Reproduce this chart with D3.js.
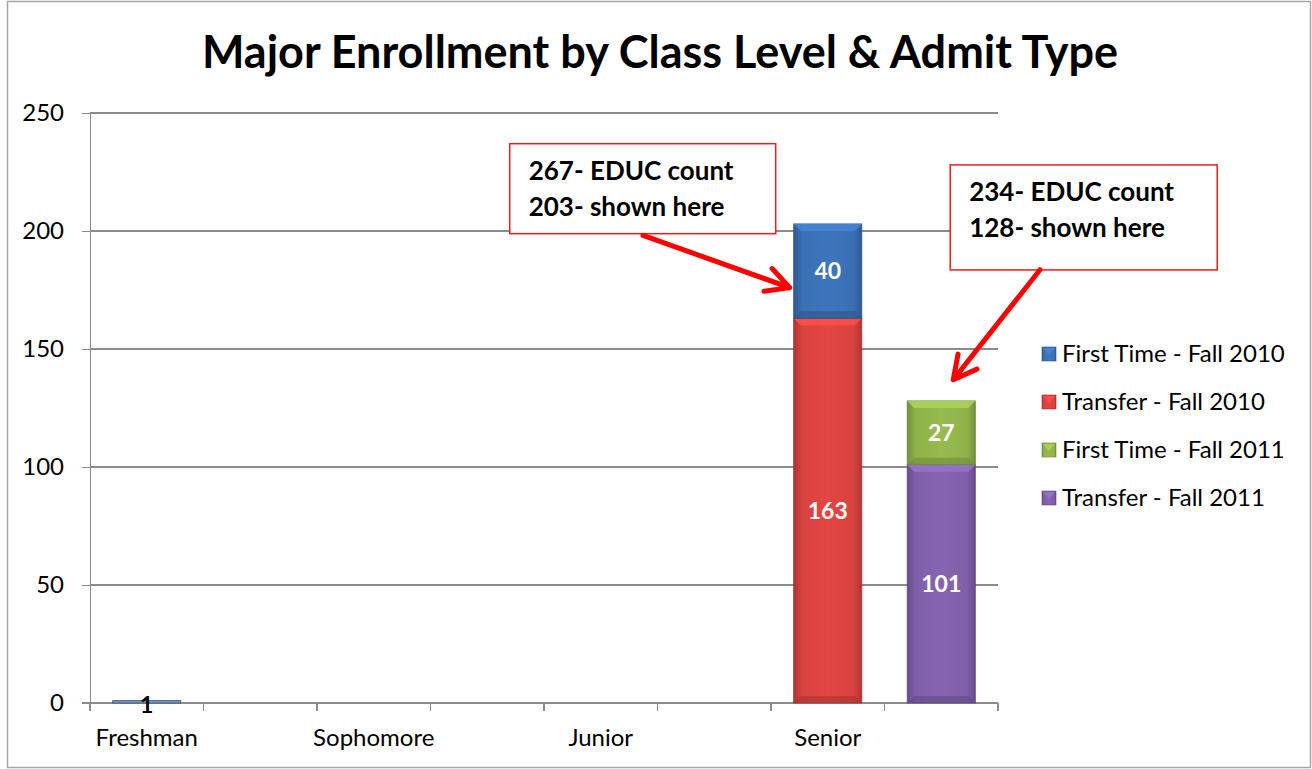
<!DOCTYPE html>
<html lang="en">
<head>
<meta charset="UTF-8">
<script src="https://d3js.org/d3.v7.min.js"></script>
<title>Major Enrollment</title>
<style>
  body { margin:0; background:#fff; font-family: Lato, "Open Sans", sans-serif; }
  .grid line { stroke:#8c8c8c; stroke-width:1.2px; shape-rendering:crispEdges; }
  .axis path, .axis line { stroke:#8c8c8c; stroke-width:1.2px; shape-rendering:crispEdges; }
  .axis text { font-family: Lato, sans-serif; font-size:24px; fill:#000; }
  .barlabel { font-family: Lato, sans-serif; font-weight:bold; font-size:23px; fill:#fff; text-anchor:middle; }
  .note { font-family: Lato, sans-serif; font-weight:bold; font-size:26px; fill:#000; }
  .legend text { font-family: Lato, sans-serif; font-size:24px; fill:#000; }
</style>
</head>
<body>
<svg id="chart" width="1312" height="769"></svg>
<script>
// categories (two slots per class level, 2010 / 2011)
const classLevels = ["Freshman", "", "Sophomore", "", "Junior", "", "Senior", ""];
const yTicks = [0, 50, 100, 150, 200, 250];

// series values, one per slot
const seriesNames = ["First Time - Fall 2010", "Transfer - Fall 2010", "First Time - Fall 2011", "Transfer - Fall 2011"];
const seriesColors = ["#3a6fb3", "#d8423f", "#8fb14a", "#7f5fa9"];
const firstTime2010 = [1, 0, 0, 0, 0, 0, 40, 0];
const transfer2010  = [0, 0, 0, 0, 0, 0, 163, 0];
const firstTime2011 = [0, 0, 0, 0, 0, 0, 0, 27];
const transfer2011  = [0, 0, 0, 0, 0, 0, 0, 101];

// callout notes: slot, value it points at, text
const noteSlots = [6, 7];
const noteValues = [176, 137];
const noteLines = [["267- EDUC count", "203- shown here"], ["234- EDUC count", "128- shown here"]];

const svg = d3.select("#chart");
const W = 1312, H = 769;
const margin = {top:113, left:90, right:314, bottom:66};

// outer frame
svg.append("rect").attr("x", 7.5).attr("y", 1.5).attr("width", W - 9).attr("height", H - 3)
  .attr("fill", "#fff").attr("stroke", "#a6a6a6").attr("stroke-width", 1.5);

svg.append("text").attr("x", 660).attr("y", 68).attr("text-anchor", "middle")
  .style("font-family", "Lato, sans-serif").style("font-weight", "bold").style("font-size", "45px")
  .text("Major Enrollment by Class Level & Admit Type");

const x = d3.scaleBand().domain(d3.range(classLevels.length))
  .range([margin.left, W - margin.right]).paddingInner(0.4).paddingOuter(0.2);
const y = d3.scaleLinear().domain([0, 250]).range([H - margin.bottom, margin.top]);

// gridlines
svg.append("g").attr("class", "grid").selectAll("line").data(yTicks.slice(1)).enter()
  .append("line").attr("x1", margin.left).attr("x2", W - margin.right)
  .attr("y1", d => Math.round(y(d))).attr("y2", d => Math.round(y(d)));

// y axis
const yAxis = svg.append("g").attr("class", "axis").attr("transform", `translate(${margin.left},0)`)
  .call(d3.axisLeft(y).tickValues(yTicks).tickSize(8).tickPadding(18));
yAxis.selectAll(".tick line").attr("x2", -8);

// x axis: ticks at slot boundaries, labels at slot centres
const xAxisG = svg.append("g").attr("class", "axis").attr("transform", `translate(0,${y(0)})`);
xAxisG.append("line").attr("x1", margin.left - 8).attr("x2", W - margin.right).attr("y1", 0).attr("y2", 0);
const step = x.step();
xAxisG.selectAll(".xt").data(d3.range(classLevels.length + 1)).enter().append("line")
  .attr("x1", i => margin.left + i * step).attr("x2", i => margin.left + i * step)
  .attr("y1", 0).attr("y2", 8);
xAxisG.selectAll(".xl").data(classLevels).enter().append("text")
  .attr("x", (d, i) => x(i) + x.bandwidth() / 2).attr("y", 43).attr("text-anchor", "middle")
  .text(d => d);

// gradients for bevelled look
const defs = svg.append("defs");
seriesColors.forEach((c, k) => {
  const g = defs.append("linearGradient").attr("id", "grad" + k).attr("x1", 0).attr("x2", 1).attr("y1", 0).attr("y2", 0);
  const dark = d3.color(c).darker(0.6), light = d3.color(c).brighter(0.15);
  g.append("stop").attr("offset", "0%").attr("stop-color", dark);
  g.append("stop").attr("offset", "12%").attr("stop-color", c);
  g.append("stop").attr("offset", "50%").attr("stop-color", light);
  g.append("stop").attr("offset", "88%").attr("stop-color", c);
  g.append("stop").attr("offset", "100%").attr("stop-color", dark);
});

// stacked data: transfer on bottom, first time on top
const rows = classLevels.map((c, i) => ({
  slot: i, s0: firstTime2010[i], s1: transfer2010[i], s2: firstTime2011[i], s3: transfer2011[i]
}));
const stack = d3.stack().keys(["s1", "s0", "s3", "s2"]);
const layers = stack(rows);

const bars = svg.append("g");
layers.forEach(layer => {
  const k = +layer.key.slice(1);
  layer.forEach(seg => {
    const v = seg[1] - seg[0];
    if (v <= 0) return;
    const bx = x(seg.data.slot), bw = x.bandwidth();
    const y0 = y(seg[0]), y1 = y(seg[1]);
    const h = Math.max(y0 - y1, 2);
    bars.append("rect").attr("x", bx).attr("y", y0 - h).attr("width", bw).attr("height", h)
      .attr("fill", v < 2 ? "#7d97b5" : `url(#grad${k})`)
      .attr("stroke", d3.color(seriesColors[k]).darker(0.8)).attr("stroke-width", 0.8);
    if (h > 12) {
      // top bevel
      const b = 7;
      bars.append("path")
        .attr("d", `M${bx},${y1}L${bx + bw},${y1}L${bx + bw - b},${y1 + b}L${bx + b},${y1 + b}Z`)
        .attr("fill", d3.color(seriesColors[k]).brighter(0.5)).attr("opacity", 0.85);
      // bottom shade
      bars.append("path")
        .attr("d", `M${bx},${y0}L${bx + bw},${y0}L${bx + bw - b},${y0 - b}L${bx + b},${y0 - b}Z`)
        .attr("fill", d3.color(seriesColors[k]).darker(0.7)).attr("opacity", 0.6);
      bars.append("text").attr("class", "barlabel")
        .attr("x", bx + bw / 2).attr("y", (y0 + y1) / 2 + 8).text(v);
    } else {
      bars.append("text").attr("class", "barlabel").style("fill", "#000")
        .attr("x", bx + bw / 2).attr("y", y0 + 10).text(v);
    }
  });
});

// callouts
const notes = svg.append("g");
const boxes = [
  {bx: x(noteSlots[0]) - 284, by: y(237), w: 266, h: 90, tip: [x(noteSlots[0]) - 4, y(noteValues[0])], tail: [643, y(199) + 2]},
  {bx: x(noteSlots[1]) + 43, by: y(228), w: 267, h: 105, tip: [x(noteSlots[1]) + x.bandwidth() / 2 + 12, y(noteValues[1])], tail: [1040, y(184) + 1]}
];
boxes.forEach((b, i) => {
  notes.append("rect").attr("x", b.bx).attr("y", b.by).attr("width", b.w).attr("height", b.h)
    .attr("fill", "#fff").attr("stroke", "#ee1c1c").attr("stroke-width", 1.5);
  noteLines[i].forEach((t, j) => {
    notes.append("text").attr("class", "note").attr("x", b.bx + 19).attr("y", b.by + 36 + j * 36).text(t);
  });
  const [tx, ty] = b.tip, [sx, sy] = b.tail;
  const ang = Math.atan2(ty - sy, tx - sx);
  const L = 26, spread = Math.PI / 6.5;
  const p1 = [tx - L * Math.cos(ang - spread), ty - L * Math.sin(ang - spread)];
  const p2 = [tx - L * Math.cos(ang + spread), ty - L * Math.sin(ang + spread)];
  notes.append("path").attr("d", `M${sx},${sy}L${tx},${ty}M${p1[0]},${p1[1]}L${tx},${ty}L${p2[0]},${p2[1]}`)
    .attr("fill", "none").attr("stroke", "#f00").attr("stroke-width", 5)
    .attr("stroke-linecap", "round").attr("stroke-linejoin", "round");
});

// legend
const legend = svg.append("g").attr("class", "legend").attr("transform", "translate(1042,354)");
seriesNames.forEach((n, i) => {
  const g = legend.append("g").attr("transform", `translate(0,${i * 48})`);
  g.append("rect").attr("x", 0).attr("y", -7).attr("width", 14).attr("height", 14)
    .attr("fill", `url(#grad${i})`).attr("stroke", d3.color(seriesColors[i]).darker(0.8)).attr("stroke-width", 0.6);
  g.append("path").attr("d", "M1,-6L13,-6L7,1Z").attr("fill", d3.color(seriesColors[i]).brighter(0.6)).attr("opacity", 0.7);
  g.append("text").attr("x", 20).attr("y", 8).text(n);
});
</script>
</body>
</html>
